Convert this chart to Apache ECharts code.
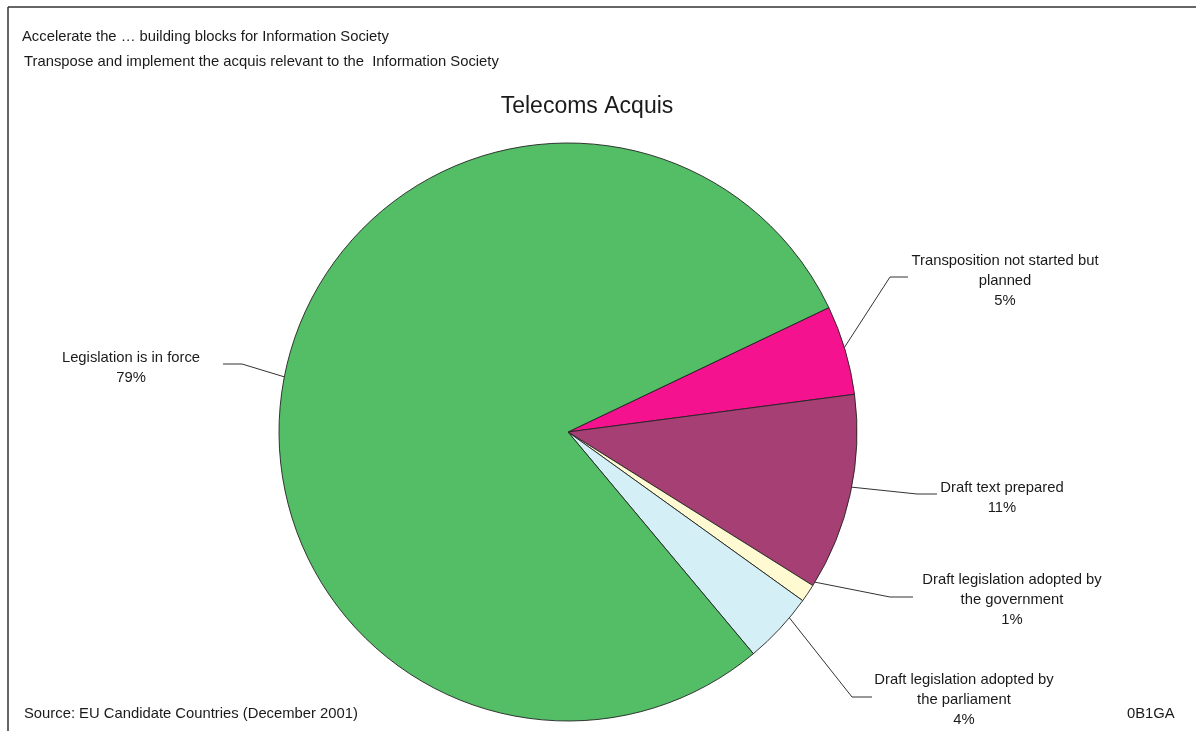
<!DOCTYPE html>
<html>
<head>
<meta charset="utf-8">
<script src="https://cdn.jsdelivr.net/npm/echarts@6/dist/echarts.min.js"></script>
<style>
  html, body { margin: 0; padding: 0; background: #fff; }
  #chart { width: 1196px; height: 731px; }
</style>
</head>
<body>
<div id="chart"></div>
<script>
// Status of transposition of the telecoms acquis (share of measures, %)
const categories = [
  'Transposition not started but\nplanned',
  'Draft text prepared',
  'Draft legislation adopted by\nthe government',
  'Draft legislation adopted by\nthe parliament',
  'Legislation is in force'
];
const shares = [5, 11, 1, 4, 79];
const sliceColors = ['#F4128F', '#A53F74', '#FFFAD2', '#D4EFF5', '#53BE66'];

const headerLines = [
  'Accelerate the \u2026 building blocks for Information Society',
  'Transpose and implement the acquis relevant to the  Information Society'
];
const chartTitle = 'Telecoms Acquis';
const sourceNote = 'Source: EU Candidate Countries (December 2001)';
const codeNote = '0B1GA';

// Pie geometry
const CX = 568, CY = 432, R = 289;

// Callout placement per slice: angle (deg) where the leader leaves the rim,
// elbow point, line end, and text centre.
const callouts = [
  { rim: 17,    elbow: [890, 277], end: [908, 277], text: [1005, 281] },
  { rim: -11,   elbow: [917, 494], end: [937, 494], text: [1002, 498] },
  { rim: -31.3, elbow: [890, 597], end: [913, 597], text: [1012, 600] },
  { rim: -40,   elbow: [852, 697], end: [872, 697], text: [964, 700] },
  { rim: 169,   elbow: [242, 364], end: [223, 364], text: [131, 368] }
];

const chart = echarts.init(document.getElementById('chart'), null, { renderer: 'canvas' });

const font = '"Liberation Sans", Arial, sans-serif';
const small = '14.8px ' + font;

chart.setOption({
  backgroundColor: '#ffffff',
  animation: false,
  title: {
    text: chartTitle,
    left: 582,
    top: 90,
    textAlign: 'center',
    textStyle: { fontFamily: font, fontSize: 23, fontWeight: 'normal', color: '#1a1a1a' }
  },
  graphic: [
    { type: 'line', shape: { x1: 8, y1: 7, x2: 1196, y2: 7 }, style: { stroke: '#333', lineWidth: 1.5 } },
    { type: 'line', shape: { x1: 8, y1: 7, x2: 8, y2: 731 }, style: { stroke: '#333', lineWidth: 1.5 } },
    { type: 'text', left: 22, top: 29, style: { text: headerLines[0], font: small, fill: '#1a1a1a' } },
    { type: 'text', left: 24, top: 54, style: { text: headerLines[1], font: small, fill: '#1a1a1a' } },
    { type: 'text', left: 24, top: 706, style: { text: sourceNote, font: small, fill: '#1a1a1a' } },
    { type: 'text', left: 1127, top: 706, style: { text: codeNote, font: small, fill: '#1a1a1a' } }
  ],
  series: [{
    type: 'pie',
    center: [CX, CY],
    radius: R,
    startAngle: 25.5,
    clockwise: true,
    avoidLabelOverlap: false,
    data: categories.map((name, i) => ({
      name: name,
      value: shares[i],
      itemStyle: { color: sliceColors[i] }
    })),
    itemStyle: { borderColor: '#222', borderWidth: 0.9 },
    label: {
      show: true,
      formatter: p => p.name + '\n' + p.value + '%',
      fontFamily: font,
      fontSize: 14.8,
      lineHeight: 20,
      color: '#1a1a1a',
      align: 'center'
    },
    labelLine: { show: true, length: 10, length2: 10, lineStyle: { color: '#333', width: 1 } },
    labelLayout: function (params) {
      const c = callouts[params.dataIndex];
      const a = c.rim * Math.PI / 180;
      const rimPt = [CX + R * Math.cos(a), CY - R * Math.sin(a)];
      return {
        x: c.text[0],
        y: c.text[1],
        align: 'center',
        verticalAlign: 'middle',
        labelLinePoints: [rimPt, c.elbow, c.end]
      };
    },
    emphasis: { disabled: true }
  }]
});
</script>
</body>
</html>
